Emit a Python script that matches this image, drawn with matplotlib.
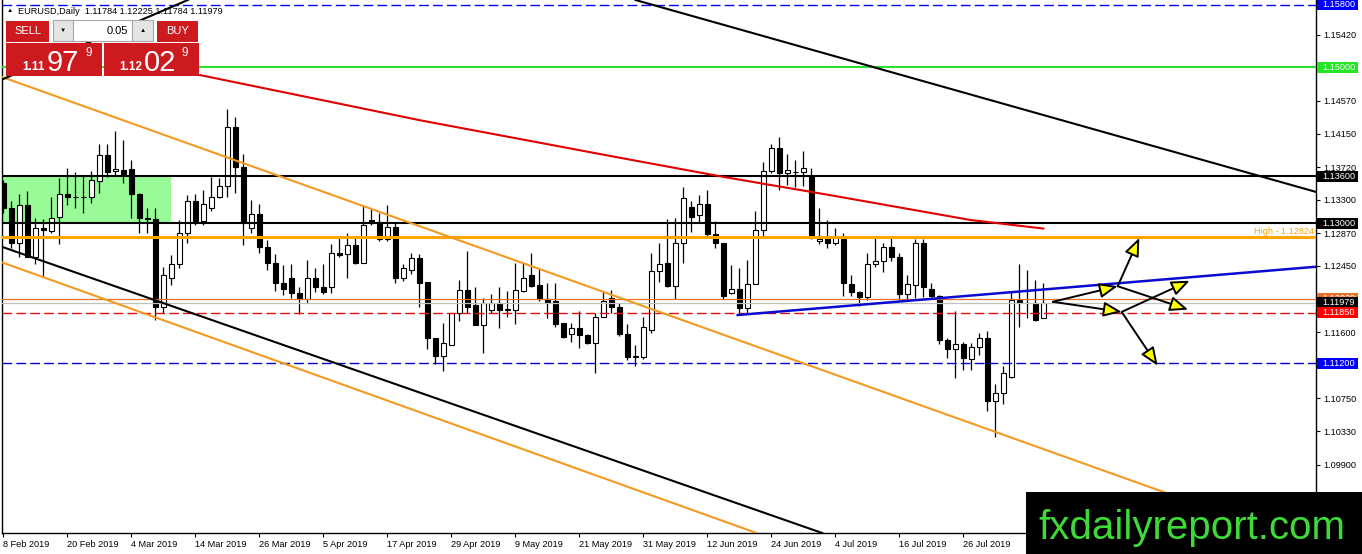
import numpy as np
import matplotlib.pyplot as plt
from matplotlib.patches import Rectangle
from matplotlib.transforms import blended_transform_factory

FONT = ['Liberation Sans', 'DejaVu Sans']
plt.rcParams['font.family'] = FONT

# EURUSD daily bars, 8 Feb 2019 .. 9 Aug 2019
opens = [1.1351, 1.1319, 1.1274, 1.1323, 1.1257, 1.1294, 1.1290, 1.1308, 1.1338, 1.1334,
         1.1334, 1.1333, 1.1354, 1.1387, 1.1367, 1.1368, 1.1369, 1.1337, 1.1306, 1.1305,
         1.1192, 1.1230, 1.1248, 1.1287, 1.1329, 1.1303, 1.1320, 1.1333, 1.1347, 1.1423,
         1.1372, 1.1294, 1.1312, 1.1269, 1.1249, 1.1223, 1.1229, 1.1210, 1.1202, 1.1230,
         1.1218, 1.1218, 1.1261, 1.1260, 1.1272, 1.1249, 1.1304, 1.1301, 1.1279, 1.1295,
         1.1229, 1.1240, 1.1255, 1.1225, 1.1153, 1.1129, 1.1144, 1.1184, 1.1214, 1.1195,
         1.1169, 1.1188, 1.1197, 1.1189, 1.1189, 1.1213, 1.1233, 1.1220, 1.1202, 1.1200,
         1.1172, 1.1158, 1.1165, 1.1157, 1.1146, 1.1180, 1.1204, 1.1192, 1.1158, 1.1129,
         1.1128, 1.1163, 1.1239, 1.1249, 1.1219, 1.1274, 1.1321, 1.1310, 1.1324, 1.1286,
         1.1274, 1.1210, 1.1216, 1.1191, 1.1222, 1.1291, 1.1367, 1.1396, 1.1364, 1.1365,
         1.1365, 1.1359, 1.1277, 1.1282, 1.1275, 1.1280, 1.1222, 1.1212, 1.1205, 1.1248,
         1.1251, 1.1269, 1.1256, 1.1209, 1.1221, 1.1274, 1.1216, 1.1206, 1.1150, 1.1138,
         1.1145, 1.1125, 1.1141, 1.1153, 1.1072, 1.1082, 1.1102, 1.1201, 1.1198, 1.1197,
         1.11784]
highs = [1.1355, 1.1329, 1.1338, 1.1341, 1.1306, 1.1305, 1.1333, 1.1358, 1.1371, 1.1365,
         1.1362, 1.1367, 1.1401, 1.1402, 1.1418, 1.1407, 1.1381, 1.1339, 1.1319, 1.1319,
         1.1244, 1.1259, 1.1304, 1.1336, 1.1337, 1.1343, 1.1359, 1.1358, 1.1446, 1.1436,
         1.1389, 1.1330, 1.1324, 1.1278, 1.1260, 1.1246, 1.1248, 1.1218, 1.1253, 1.1243,
         1.1247, 1.1273, 1.1282, 1.1287, 1.1284, 1.1323, 1.1320, 1.1313, 1.1323, 1.1300,
         1.1247, 1.1261, 1.1260, 1.1225, 1.1153, 1.1172, 1.1184, 1.1227, 1.1264, 1.1218,
         1.1204, 1.1209, 1.1218, 1.1213, 1.1249, 1.1249, 1.1262, 1.1242, 1.1223, 1.1223,
         1.1172, 1.1172, 1.1187, 1.1158, 1.1185, 1.1211, 1.1214, 1.1197, 1.1171, 1.1143,
         1.1179, 1.1261, 1.1275, 1.1305, 1.1307, 1.1346, 1.1329, 1.1336, 1.1342, 1.1303,
         1.1274, 1.1246, 1.1242, 1.1253, 1.1316, 1.1378, 1.1402, 1.1410, 1.1389, 1.1381,
         1.1392, 1.1371, 1.1319, 1.1304, 1.1294, 1.1287, 1.1233, 1.1213, 1.1262, 1.1284,
         1.1274, 1.1282, 1.1262, 1.1233, 1.1279, 1.1280, 1.1223, 1.1208, 1.1153, 1.1187,
         1.1148, 1.1146, 1.1159, 1.1161, 1.1094, 1.1116, 1.1212, 1.1248, 1.1240, 1.1227,
         1.12225]
lows = [1.1313, 1.1268, 1.1256, 1.1256, 1.1248, 1.1231, 1.1287, 1.1273, 1.1323, 1.1319,
        1.1313, 1.1326, 1.1339, 1.1359, 1.1360, 1.1351, 1.1307, 1.1287, 1.1287, 1.1175,
        1.1184, 1.1221, 1.1243, 1.1275, 1.1298, 1.1298, 1.1316, 1.1332, 1.1333, 1.1339,
        1.1272, 1.1287, 1.1261, 1.1240, 1.1213, 1.1208, 1.1204, 1.1183, 1.1198, 1.1211,
        1.1209, 1.1210, 1.1256, 1.1229, 1.1248, 1.1249, 1.1298, 1.1277, 1.1277, 1.1223,
        1.1226, 1.1235, 1.1192, 1.1139, 1.1119, 1.1110, 1.1143, 1.1174, 1.1185, 1.1169,
        1.1133, 1.1185, 1.1165, 1.1180, 1.1171, 1.1211, 1.1218, 1.1200, 1.1178, 1.1166,
        1.1153, 1.1148, 1.1140, 1.1145, 1.1107, 1.1179, 1.1185, 1.1155, 1.1124, 1.1116,
        1.1125, 1.1159, 1.1225, 1.1218, 1.1202, 1.1249, 1.1288, 1.1301, 1.1284, 1.1268,
        1.1202, 1.1209, 1.1183, 1.1185, 1.1222, 1.1284, 1.1364, 1.1342, 1.1349, 1.1346,
        1.1347, 1.1280, 1.1273, 1.1268, 1.1272, 1.1206, 1.1206, 1.1193, 1.1201, 1.1244,
        1.1237, 1.1251, 1.1201, 1.1201, 1.1204, 1.1205, 1.1205, 1.1145, 1.1127, 1.1101,
        1.1111, 1.1112, 1.1131, 1.1059, 1.1025, 1.1068, 1.1101, 1.1166, 1.1178, 1.1174,
        1.11784]
closes = [1.1319, 1.1274, 1.1323, 1.1257, 1.1294, 1.1291, 1.1307, 1.1338, 1.1333, 1.1333,
          1.1333, 1.1355, 1.1387, 1.1365, 1.1369, 1.1363, 1.1337, 1.1306, 1.1305, 1.1192,
          1.1233, 1.1248, 1.1287, 1.1329, 1.1303, 1.1324, 1.1333, 1.1347, 1.1423, 1.1372,
          1.1300, 1.1312, 1.1269, 1.1249, 1.1223, 1.1216, 1.1210, 1.1202, 1.1230, 1.1218,
          1.1211, 1.1261, 1.1259, 1.1272, 1.1249, 1.1298, 1.1300, 1.1279, 1.1295, 1.1229,
          1.1242, 1.1255, 1.1223, 1.1153, 1.1129, 1.1146, 1.1184, 1.1214, 1.1192, 1.1169,
          1.1198, 1.1198, 1.1188, 1.1190, 1.1214, 1.1229, 1.1219, 1.1202, 1.1198, 1.1171,
          1.1154, 1.1165, 1.1157, 1.1146, 1.1180, 1.1200, 1.1192, 1.1158, 1.1128, 1.1128,
          1.1166, 1.1238, 1.1248, 1.1219, 1.1274, 1.1332, 1.1308, 1.1324, 1.1286, 1.1274,
          1.1206, 1.1216, 1.1191, 1.1222, 1.1291, 1.1367, 1.1396, 1.1364, 1.1368, 1.1366,
          1.1371, 1.1282, 1.1280, 1.1275, 1.1282, 1.1223, 1.1211, 1.1205, 1.1248, 1.1251,
          1.1269, 1.1256, 1.1209, 1.1222, 1.1274, 1.1218, 1.1206, 1.1150, 1.1138, 1.1145,
          1.1127, 1.1141, 1.1153, 1.1072, 1.1082, 1.1107, 1.1201, 1.1197, 1.1197, 1.1176,
          1.11979]

# the last label ("7 Aug 2019") sits under the watermark box, so it is left empty
date_labels = ["8 Feb 2019", "20 Feb 2019", "4 Mar 2019", "14 Mar 2019", "26 Mar 2019",
               "5 Apr 2019", "17 Apr 2019", "29 Apr 2019", "9 May 2019", "21 May 2019",
               "31 May 2019", "12 Jun 2019", "24 Jun 2019", "4 Jul 2019", "16 Jul 2019",
               "26 Jul 2019", ""]
price_ticks = [1.0948, 1.0990, 1.1033, 1.1075, 1.1117, 1.1160, 1.1202, 1.1245, 1.1287,
               1.1330, 1.1372, 1.1415, 1.1457, 1.1499, 1.1542]

bid = closes[-1]
ask = 1.12029
lot = "0.05"
level_top = 1.158
level_green = 1.150
level_r1 = 1.136
level_r2 = 1.130
high_level = 1.12824
level_red = 1.1185
level_blue = 1.112
zone = (-2, 21, 1.130, 1.136)          # bar from, bar to, low, high

# moving average read at a few bars
ma_x = [24.6, 39.8, 52.1, 76.5, 90.2, 103.3, 120.9, 130.0]
ma_y = [1.1490, 1.1458, 1.1432, 1.1385, 1.1359, 1.1336, 1.1304, 1.1293]

# trend lines: two anchor points each (bar, price)
orange_up = [(0, 1.1487), (124, 1.1032)]
orange_low = [(0, 1.1249), (60, 1.1028)]
black_low = [(0, 1.1269), (60, 1.1054)]
black_up = [(80.2, 1.1583), (164.1, 1.1340)]
black_left = [(0, 1.1485), (22.3, 1.1583)]
blue_line = [(91.8, 1.1182), (164.1, 1.1244)]

# scenario arrows
p0 = (131.2, 1.1199)
pa = (139.3, 1.1219)
pb = (139.8, 1.1186)
arrows = [(p0, pa), (p0, pb), (pa, (142.0, 1.1281)), (pa, (148.1, 1.1189)),
          (pb, (148.3, 1.1226)), (pb, (144.3, 1.1117))]

fig = plt.figure(figsize=(13.62, 5.54), dpi=100)
ax = fig.add_axes([2 / 1362, 21 / 554, 1314 / 1362, 533 / 554])
ax.set_xlim(-0.16, 164.09)
ax.set_ylim(1.09022, 1.15864)

x = np.arange(len(opens))
o, h, l, c = map(np.array, (opens, highs, lows, closes))
bull = c >= o

ax.add_patch(Rectangle((zone[0], zone[2]), zone[1] - zone[0], zone[3] - zone[2],
                       fc='#98fb98', ec='none', zorder=1))

ax.vlines(x, l, h, color='black', lw=0.9, zorder=3)
ax.bar(x, np.maximum(np.abs(c - o), 0.00002), bottom=np.minimum(o, c), width=0.62,
       color=['white' if b else 'black' for b in bull], edgecolor='black',
       linewidth=0.8, zorder=4)

# horizontal levels
ax.axhline(level_top, color='#0000ff', lw=1, dashes=(7, 3), zorder=5)
ax.axhline(level_green, color='#2ee02e', lw=1.5, zorder=5)
ax.axhline(level_r1, color='black', lw=1.5, zorder=5)
ax.axhline(level_r2, color='black', lw=1.5, zorder=5)
ax.axhline(high_level, color='#ffa500', lw=2.2, zorder=5)
ax.axhline(ask, color='#e8702a', lw=0.9, zorder=5)
ax.axhline(bid, color='#c0c0c0', lw=0.9, zorder=5)
ax.axhline(level_red, color='#e01010', lw=1, dashes=(7, 3), zorder=5)
ax.axhline(level_blue, color='#0000cc', lw=1, dashes=(7, 3), zorder=5)

ax.plot(ma_x, ma_y, color='#e00000', lw=1.5, zorder=5)

for pts, col in [(orange_up, '#f39a1e'), (orange_low, '#f39a1e'), (black_low, 'black'),
                 (black_up, 'black'), (black_left, 'black')]:
    ax.axline(pts[0], pts[1], color=col, lw=1.5, zorder=5)
ax.plot(*zip(*blue_line), color='#0a0ad0', lw=1.8, zorder=5)

for a, b in arrows:
    ax.annotate('', xy=b, xytext=a,
                arrowprops=dict(arrowstyle='-|>,head_length=1.1,head_width=0.45',
                                fc='#ffff00', ec='black', lw=1.4, shrinkA=0, shrinkB=0),
                zorder=6)

# price tags on the right scale
tags = [(level_top, '#0000ff'), (level_green, '#22e622'), (level_r1, 'black'),
        (level_r2, 'black'), (ask, '#e8702a'), (bid, 'black'), (level_red, '#ff0000'),
        (level_blue, '#0000ff')]

# axes styling
ax.spines['top'].set_visible(False)
for s in ('left', 'bottom', 'right'):
    ax.spines[s].set_linewidth(1)
ax.yaxis.tick_right()
# regular scale labels that sit under a price tag are covered in the chart
ylabels = ['' if any(abs(v - t) < 0.0006 for t, _ in tags) else f'{v:.5f}'
           for v in price_ticks]
ax.set_yticks(price_ticks, ylabels)
ax.set_xticks(range(0, 8 * len(date_labels), 8), date_labels)
for t in ax.get_xticklabels():
    t.set_ha('left')
ax.tick_params(axis='y', direction='out', length=3, width=0.8, pad=2, labelsize=6.6)
ax.tick_params(axis='x', direction='out', length=3, width=0.8, pad=2, labelsize=6.6)

ytr = blended_transform_factory(ax.transAxes, ax.transData)
for i, (v, col) in enumerate(tags):
    ax.add_patch(Rectangle((1.0008, v - 0.0007), 0.0312, 0.0014, transform=ytr,
                           fc=col, ec='none', clip_on=False, zorder=10 + i))
    ax.text(1.0046, v, f'{v:.5f}', transform=ytr, color='white', fontsize=6.6,
            va='center', ha='left', clip_on=False, zorder=10.5 + i)
ax.text(0.9985, high_level + 0.0001, f'High - {high_level:.5f}', transform=ytr,
        color='#ffa500', fontsize=6.6, ha='right', va='bottom', zorder=7)

# overlay in pixel coordinates: title, trade panel, watermark
ov = fig.add_axes([0, 0, 1, 1])
ov.set_xlim(0, 1362)
ov.set_ylim(554, 0)
ov.axis('off')

ov.text(7, 11, '\u25b2', fontsize=4.5, va='center', family=FONT)
ov.text(18, 11, 'EURUSD,Daily  ' + ' '.join(f'{v:.5f}' for v in (o[-1], h[-1], l[-1], c[-1])),
        fontsize=6.6, va='center')

red = '#cc1a1e'
ov.add_patch(Rectangle((6, 21), 43, 21, fc=red, ec='none'))
ov.add_patch(Rectangle((157, 21), 41, 21, fc=red, ec='none'))
ov.add_patch(Rectangle((53, 20), 20, 21, fc='#e4e4e4', ec='#a8a8a8', lw=0.8))
ov.add_patch(Rectangle((73, 20), 59, 21, fc='white', ec='#a8a8a8', lw=0.8))
ov.add_patch(Rectangle((132, 20), 21, 21, fc='#e4e4e4', ec='#a8a8a8', lw=0.8))
ov.add_patch(Rectangle((6, 43), 96, 33, fc=red, ec='none'))
ov.add_patch(Rectangle((104, 43), 95, 33, fc=red, ec='none'))
ov.text(27.5, 31.5, 'SELL', color='white', fontsize=8, ha='center', va='center')
ov.text(177.5, 31.5, 'BUY', color='white', fontsize=8, ha='center', va='center')
ov.text(63, 30.5, '\u25bc', fontsize=4.5, ha='center', va='center', family=FONT)
ov.text(142.5, 30.5, '\u25b2', fontsize=4.5, ha='center', va='center', family=FONT)
ov.text(128, 31, lot, fontsize=8, ha='right', va='center')

for px, price in [(22, bid), (119, ask)]:
    s = f'{price:.5f}'
    ov.text(px, 70, s[:4], color='white', fontsize=8.5, fontweight='bold', va='baseline')
    ov.text(px + 25, 71, s[4:6], color='white', fontsize=21, va='baseline')
    ov.text(px + 63, 56, s[6], color='white', fontsize=8.5, va='baseline')

ov.add_patch(Rectangle((1026, 492), 336, 62, fc='black', ec='none'))
ov.text(1192, 539, 'fxdailyreport.com', color='#3fd93a', fontsize=29,
        ha='center', va='baseline')

fig.savefig('out.png', dpi=100)
